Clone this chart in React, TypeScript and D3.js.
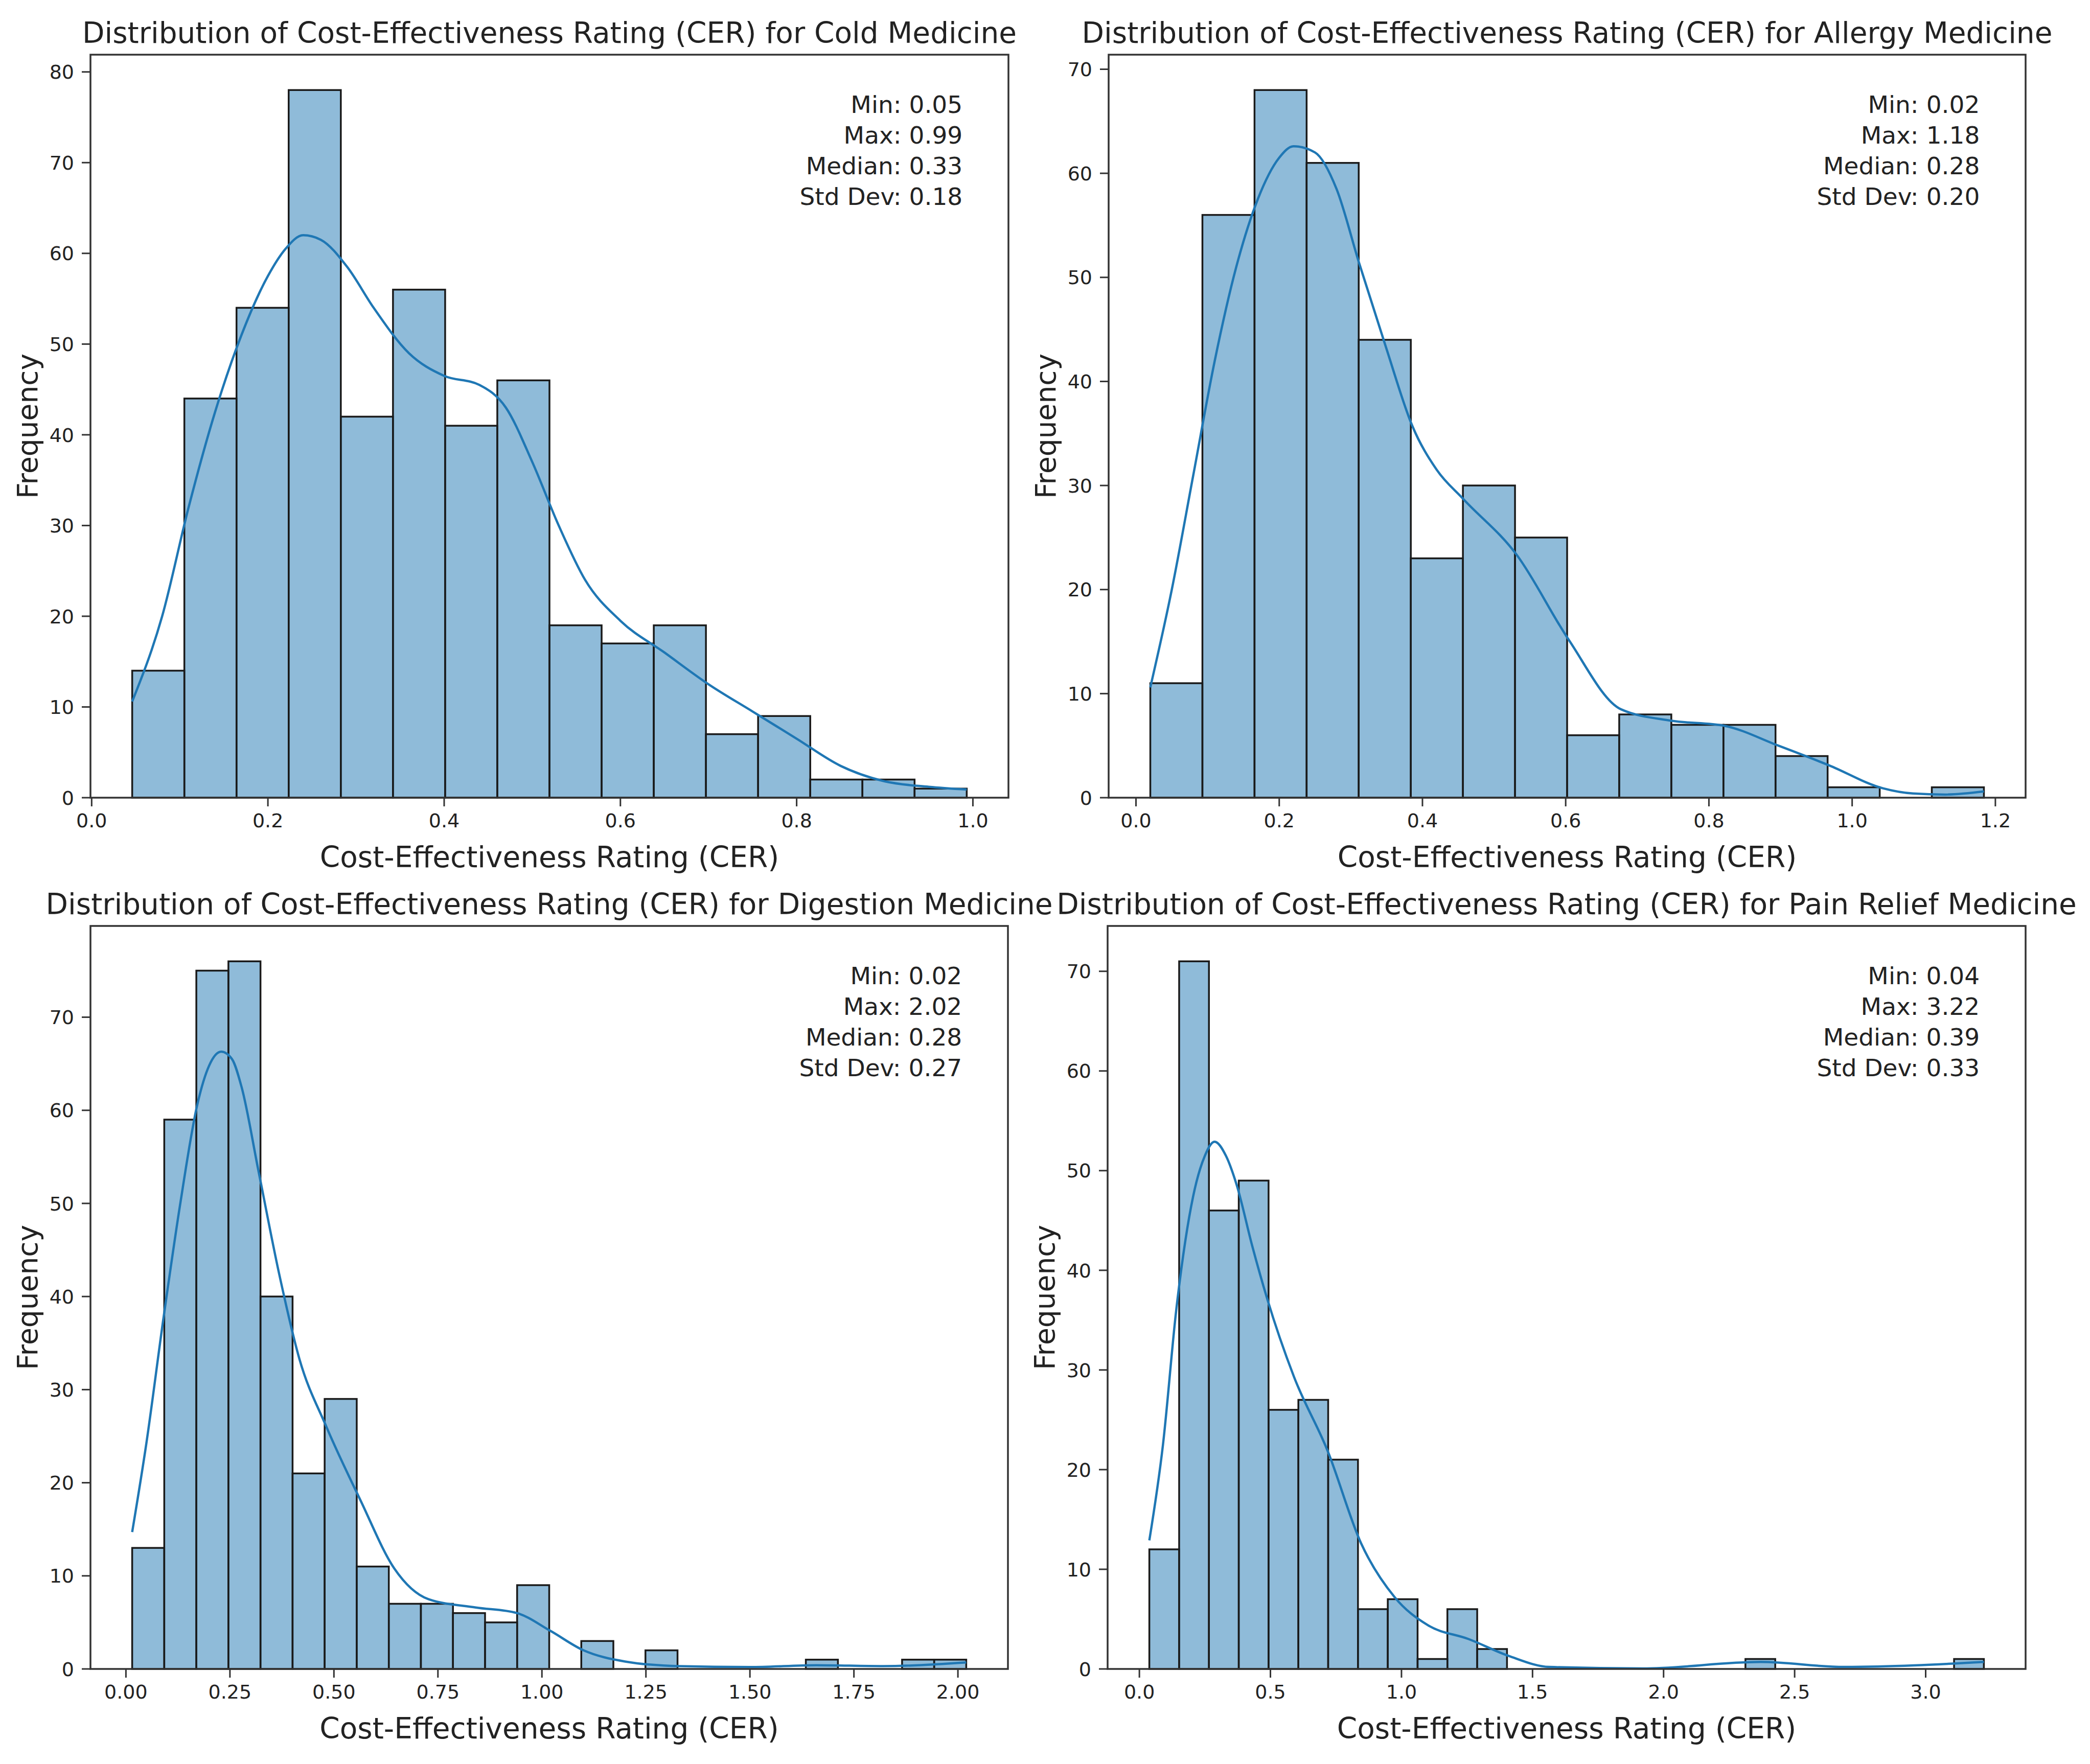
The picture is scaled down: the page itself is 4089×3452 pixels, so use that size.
import React from 'react';
import * as d3 from 'd3';

const W = 4089;
const H = 3452;

// medicine types, one panel each
const medicines = ['Cold Medicine', 'Allergy Medicine', 'Digestion Medicine', 'Pain Relief Medicine'];

// histogram counts per bin
const coldCounts = [14, 44, 54, 78, 42, 56, 41, 46, 19, 17, 19, 7, 9, 2, 2, 1];
const allergyCounts = [11, 56, 68, 61, 44, 23, 30, 25, 6, 8, 7, 7, 4, 1, 0, 1];
const digestionCounts = [13, 59, 75, 76, 40, 21, 29, 11, 7, 7, 6, 5, 9, 0, 3, 0, 2, 0, 0, 0, 0, 1, 0, 0, 1, 1];
const painCounts = [12, 71, 46, 49, 26, 27, 21, 6, 7, 1, 6, 2, 0, 0, 0, 0, 0, 0, 0, 0, 1, 0, 0, 0, 0, 0, 0, 1];

// data range covered by the bins
const coldRange = [0.046, 0.993];
const allergyRange = [0.02, 1.184];
const digestionRange = [0.015, 2.02];
const painRange = [0.038, 3.222];

// kde curves, [CER, frequency]
const coldKde = [
  [0.046, 10.6], [0.08, 20], [0.11, 32], [0.14, 42.5], [0.17, 51], [0.2, 57.5], [0.22, 60.5], [0.24, 62],
  [0.26, 61.5], [0.29, 58.5], [0.32, 54], [0.36, 49], [0.4, 46.5], [0.44, 45.5], [0.47, 43], [0.5, 37],
  [0.53, 30], [0.56, 24], [0.6, 19.5], [0.65, 16], [0.7, 12.5], [0.75, 9.5], [0.8, 6.5], [0.85, 3.5],
  [0.9, 1.8], [0.95, 1.2], [0.993, 0.9],
];
const allergyKde = [
  [0.02, 10.6], [0.05, 20], [0.08, 31], [0.11, 42], [0.14, 51], [0.17, 57.5], [0.2, 61.5], [0.22, 62.6],
  [0.25, 62], [0.28, 58.5], [0.311, 51.5], [0.349, 43.3], [0.386, 35.7], [0.42, 31.5], [0.457, 28.7],
  [0.532, 23.3], [0.604, 15.2], [0.677, 8.5], [0.747, 7.4], [0.822, 6.9], [0.897, 5.0], [0.968, 3.1],
  [1.043, 0.9], [1.085, 0.4], [1.13, 0.3], [1.184, 0.6],
];
const digestionKde = [
  [0.015, 14.7], [0.049, 24.2], [0.09, 37.6], [0.13, 49.8], [0.172, 60.7], [0.2, 64.8], [0.229, 66.3],
  [0.255, 65.5], [0.278, 62.5], [0.319, 53.4], [0.368, 42.5], [0.417, 33.3], [0.482, 26.0], [0.564, 18.1],
  [0.645, 10.8], [0.727, 7.5], [0.841, 6.6], [0.94, 6.0], [1.02, 4.1], [1.1, 2.0], [1.2, 0.8], [1.33, 0.3],
  [1.5, 0.2], [1.66, 0.4], [1.82, 0.3], [2.02, 0.7],
];
const painKde = [
  [0.038, 12.9], [0.09, 22.5], [0.141, 36.1], [0.205, 47.4], [0.25, 51.5], [0.287, 52.9], [0.33, 51.5],
  [0.372, 48.5], [0.43, 42.5], [0.487, 37.2], [0.59, 29.3], [0.718, 21.9], [0.846, 12.6], [0.974, 7.2],
  [1.1, 4.4], [1.256, 3.0], [1.41, 1.3], [1.564, 0.2], [1.92, 0.05], [2.37, 0.7], [2.69, 0.2], [3.222, 0.7],
];

// summary text in the corner
const coldStats = ['Min: 0.05', 'Max: 0.99', 'Median: 0.33', 'Std Dev: 0.18'];
const allergyStats = ['Min: 0.02', 'Max: 1.18', 'Median: 0.28', 'Std Dev: 0.20'];
const digestionStats = ['Min: 0.02', 'Max: 2.02', 'Median: 0.28', 'Std Dev: 0.27'];
const painStats = ['Min: 0.04', 'Max: 3.22', 'Median: 0.39', 'Std Dev: 0.33'];

// tick values
const coldXTicks = [0, 0.2, 0.4, 0.6, 0.8, 1.0];
const allergyXTicks = [0, 0.2, 0.4, 0.6, 0.8, 1.0, 1.2];
const digestionXTicks = [0, 0.25, 0.5, 0.75, 1.0, 1.25, 1.5, 1.75, 2.0];
const painXTicks = [0, 0.5, 1.0, 1.5, 2.0, 2.5, 3.0];
const coldYTicks = [0, 10, 20, 30, 40, 50, 60, 70, 80];
const otherYTicks = [0, 10, 20, 30, 40, 50, 60, 70];

const series = [
  { counts: coldCounts, range: coldRange, kde: coldKde, stats: coldStats, xTicks: coldXTicks, yTicks: coldYTicks, digits: 1 },
  { counts: allergyCounts, range: allergyRange, kde: allergyKde, stats: allergyStats, xTicks: allergyXTicks, yTicks: otherYTicks, digits: 1 },
  { counts: digestionCounts, range: digestionRange, kde: digestionKde, stats: digestionStats, xTicks: digestionXTicks, yTicks: otherYTicks, digits: 2 },
  { counts: painCounts, range: painRange, kde: painKde, stats: painStats, xTicks: painXTicks, yTicks: otherYTicks, digits: 1 },
];

// axes boxes in pixels
const boxes = [
  { left: 177, right: 1973, top: 107, bottom: 1561 },
  { left: 2169, right: 3963, top: 107, bottom: 1561 },
  { left: 177, right: 1972, top: 1812, bottom: 3266 },
  { left: 2167, right: 3963, top: 1812, bottom: 3266 },
];

const FONT = '"DejaVu Sans", Verdana, sans-serif';
const TEXT = '#222';
const SPINE = '#333';

function Panel({ idx }: { idx: number }) {
  const s = series[idx];
  const b = boxes[idx];
  const [lo, hi] = s.range;
  const span = hi - lo;
  const n = s.counts.length;
  const bw = span / n;

  const x = d3.scaleLinear().domain([lo - 0.05 * span, hi + 0.05 * span]).range([b.left, b.right]);
  const yMax = (d3.max(s.counts) || 0) * 1.05;
  const y = d3.scaleLinear().domain([0, yMax]).range([b.bottom, b.top]);

  const line = d3.line<number[]>()
    .x(d => x(d[0]))
    .y(d => y(d[1]))
    .curve(d3.curveMonotoneX);

  const fmt = d3.format(`.${s.digits}f`);
  const cx = (b.left + b.right) / 2;
  const cy = (b.top + b.bottom) / 2;
  const statX = b.left + 0.95 * (b.right - b.left);

  return (
    <g>
      <text x={cx} y={b.top - 23} textAnchor="middle" fontSize={56.5} fontFamily={FONT} fill={TEXT}>
        {`Distribution of Cost-Effectiveness Rating (CER) for ${medicines[idx]}`}
      </text>

      {s.counts.map((c, i) => c > 0 ? (
        <rect key={i}
          x={x(lo + i * bw)} y={y(c)}
          width={x(lo + (i + 1) * bw) - x(lo + i * bw)}
          height={y(0) - y(c)}
          fill="rgba(31,119,180,0.5)" stroke="#1a1a1a" strokeWidth={3.5} />
      ) : null)}

      <path d={line(s.kde) || ''} fill="none" stroke="#1f77b4" strokeWidth={4.5} />

      <rect x={b.left} y={b.top} width={b.right - b.left} height={b.bottom - b.top}
        fill="none" stroke={SPINE} strokeWidth={3.5} />

      {s.xTicks.map(t => (
        <g key={t}>
          <line x1={x(t)} x2={x(t)} y1={b.bottom} y2={b.bottom + 17} stroke={SPINE} strokeWidth={3} />
          <text x={x(t)} y={b.bottom + 58} textAnchor="middle" fontSize={38} fontFamily={FONT} fill={TEXT}>{fmt(t)}</text>
        </g>
      ))}
      {s.yTicks.map(t => (
        <g key={t}>
          <line x1={b.left - 17} x2={b.left} y1={y(t)} y2={y(t)} stroke={SPINE} strokeWidth={3} />
          <text x={b.left - 32} y={y(t)} dy="0.36em" textAnchor="end" fontSize={38} fontFamily={FONT} fill={TEXT}>{t}</text>
        </g>
      ))}

      <text x={cx} y={b.bottom + 136} textAnchor="middle" fontSize={56.5} fontFamily={FONT} fill={TEXT}>
        Cost-Effectiveness Rating (CER)
      </text>
      <text transform={`translate(${b.left - 104},${cy}) rotate(-90)`} textAnchor="middle" fontSize={55} fontFamily={FONT} fill={TEXT}>
        Frequency
      </text>

      {s.stats.map((t, i) => (
        <text key={t} x={statX} y={b.top + 114 + i * 60} textAnchor="end" fontSize={47} fontFamily={FONT} fill={TEXT}>{t}</text>
      ))}
    </g>
  );
}

export default function App() {
  return (
    <svg width={W} height={H} viewBox={`0 0 ${W} ${H}`}
      style={{ position: 'absolute', left: 0, top: 0, background: '#fff' }}>
      <rect width={W} height={H} fill="#fff" />
      {series.map((_, i) => <Panel key={i} idx={i} />)}
    </svg>
  );
}
